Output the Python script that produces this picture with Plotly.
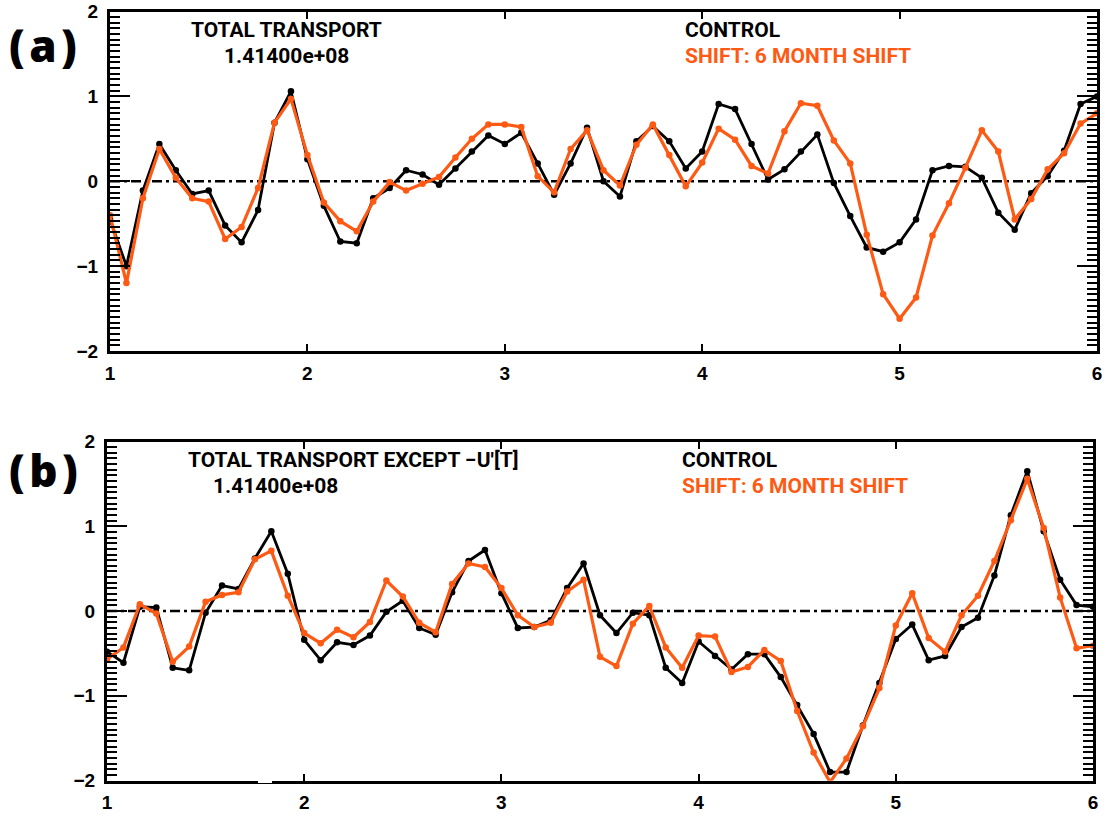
import numpy as np
import plotly.graph_objects as go

# months since start (monthly samples, 5 years)
months = list(range(61))

control_a = [-0.45, -1.0, -0.11, 0.44, 0.13, -0.15, -0.11, -0.52, -0.72, -0.34, 0.69, 1.06, 0.26,
             -0.29, -0.71, -0.73, -0.2, -0.08, 0.13, 0.08, -0.04, 0.15, 0.35, 0.54, 0.44,
             0.57, 0.21, -0.16, 0.21, 0.63, 0.0, -0.18, 0.47, 0.65, 0.47, 0.15, 0.35,
             0.91, 0.85, 0.44, 0.02, 0.14, 0.35, 0.55, -0.02, -0.41, -0.78, -0.83, -0.72,
             -0.45, 0.13, 0.18, 0.17, 0.04, -0.37, -0.57, -0.14, 0.06, 0.36, 0.91, 1.0]
shift_a = [-0.4, -1.2, -0.2, 0.38, 0.04, -0.2, -0.24, -0.68, -0.54, -0.08, 0.69, 0.97, 0.31,
           -0.25, -0.47, -0.59, -0.24, -0.01, -0.11, -0.03, 0.05, 0.28, 0.5, 0.67, 0.67,
           0.64, 0.06, -0.13, 0.38, 0.6, 0.13, -0.05, 0.43, 0.67, 0.31, -0.06, 0.22,
           0.62, 0.49, 0.18, 0.09, 0.59, 0.92, 0.89, 0.48, 0.21, -0.63, -1.33, -1.62,
           -1.37, -0.64, -0.26, 0.16, 0.6, 0.35, -0.45, -0.21, 0.14, 0.33, 0.68, 0.8]
control_b = [-0.48, -0.61, 0.05, 0.04, -0.67, -0.7, -0.02, 0.3, 0.26, 0.62, 0.94, 0.44, -0.34,
             -0.58, -0.37, -0.4, -0.29, -0.01, 0.12, -0.2, -0.28, 0.22, 0.59, 0.72, 0.21,
             -0.2, -0.19, -0.11, 0.27, 0.56, -0.05, -0.26, -0.02, -0.05, -0.67, -0.85, -0.36,
             -0.53, -0.69, -0.51, -0.51, -0.78, -1.11, -1.45, -1.9, -1.9, -1.35, -0.85, -0.33,
             -0.16, -0.58, -0.53, -0.19, -0.08, 0.42, 1.13, 1.65, 0.94, 0.37, 0.07, 0.05]
shift_b = [-0.57, -0.43, 0.08, -0.03, -0.6, -0.42, 0.11, 0.19, 0.22, 0.61, 0.71, 0.18, -0.26,
           -0.38, -0.22, -0.31, -0.13, 0.36, 0.17, -0.14, -0.25, 0.32, 0.56, 0.52, 0.27,
           -0.05, -0.19, -0.14, 0.23, 0.37, -0.54, -0.65, -0.15, 0.06, -0.43, -0.67, -0.29,
           -0.3, -0.72, -0.66, -0.46, -0.59, -1.18, -1.67, -2.02, -1.74, -1.36, -0.91, -0.17,
           0.21, -0.32, -0.48, -0.05, 0.18, 0.59, 1.07, 1.56, 0.98, 0.16, -0.44, -0.41]

x_ticks = [1, 2, 3, 4, 5, 6]
y_ticks = [-2, -1, 0, 1, 2]

W, H = 1107, 816
ORANGE = "#FF5A14"

years = [1 + m / 12 for m in months]

fig = go.Figure()

def add_panel(ctrl, shift, xa, ya):
    fig.add_trace(go.Scatter(x=years, y=ctrl, mode="lines+markers", xaxis=xa, yaxis=ya,
                             line=dict(color="black", width=2.8),
                             marker=dict(color="black", size=6.5), showlegend=False))
    fig.add_trace(go.Scatter(x=years, y=shift, mode="lines+markers", xaxis=xa, yaxis=ya,
                             line=dict(color=ORANGE, width=3.2),
                             marker=dict(color=ORANGE, size=6.5), showlegend=False))

add_panel(control_a, shift_a, "x", "y")
add_panel(control_b, shift_b, "x2", "y2")

tickfont = dict(family="Liberation Sans", size=19, color="black", weight="bold")

def xaxis(domain, anchor):
    return dict(domain=domain, anchor=anchor, range=[1, 6], tickvals=x_ticks,
                showline=True, linecolor="black", linewidth=3, mirror="allticks",
                ticks="inside", ticklen=7, tickwidth=2, tickcolor="black", automargin=False,
                showgrid=False, zeroline=False, tickfont=tickfont, ticklabelstandoff=3)

def yaxis(domain, anchor):
    return dict(domain=domain, anchor=anchor, range=[-2, 2], tickvals=y_ticks,
                showline=True, linecolor="black", linewidth=3, mirror="allticks",
                ticks="inside", ticklen=20, tickwidth=2, tickcolor="black", automargin=False,
                minor=dict(dtick=1 / 15, tick0=0, ticks="inside", ticklen=10, tickwidth=2,
                           tickcolor="black", showgrid=False),
                showgrid=False, zeroline=False, tickfont=tickfont, ticklabelstandoff=5)

fig.update_layout(
    width=W, height=H, margin=dict(l=0, r=0, t=0, b=0, pad=0),
    paper_bgcolor="white", plot_bgcolor="white",
    xaxis=xaxis([110 / W, 1097 / W], "y"),
    yaxis=yaxis([1 - 351 / H, 1 - 11.5 / H], "x"),
    xaxis2=xaxis([107 / W, 1093 / W], "y2"),
    yaxis2=yaxis([1 - 780.5 / H, 1 - 441.5 / H], "x2"),
)

# dash-dot zero lines
for xr, yr in [("x", "y"), ("x2", "y2")]:
    fig.add_shape(type="line", xref=xr, yref=yr, x0=1, x1=6, y0=0, y1=0,
                  line=dict(color="black", width=2.6, dash="10px,4px,3px,4px"), layer="below")

# small gap in the lower frame of panel (b)
fig.add_shape(type="rect", xref="paper", yref="paper", x0=258 / W, x1=272 / W,
              y0=1 - 783 / H, y1=1 - 777 / H, fillcolor="white", line=dict(width=0), layer="above")

txtfont = dict(family="Roboto", size=21, color="black", weight="bold")
orgfont = dict(family="Roboto", size=21, color=ORANGE, weight="bold")

def ann(text, px, py, font, xanchor="left"):
    fig.add_annotation(text=text, x=px / W, y=1 - py / H, xref="paper", yref="paper",
                       xanchor=xanchor, yanchor="middle", showarrow=False, font=font,
                       borderpad=0)

ann("TOTAL TRANSPORT", 286, 30, txtfont, "center")
ann("1.41400e+08", 286, 56, txtfont, "center")
ann("CONTROL", 684, 30, txtfont)
ann("SHIFT: 6 MONTH SHIFT", 684, 56, orgfont)

ann("TOTAL TRANSPORT EXCEPT \u2212U'[T]", 187, 460, txtfont)
ann("1.41400e+08", 212, 486, txtfont)
ann("CONTROL", 681, 460, txtfont)
ann("SHIFT: 6 MONTH SHIFT", 681, 486, orgfont)

labfont = dict(family="Open Sans", size=44, color="black", weight=800)
ann("(\u200aa\u200a)", 8, 45, labfont)
ann("(\u200ab\u200a)", 8, 470, labfont)

fig.write_html("out.html")
